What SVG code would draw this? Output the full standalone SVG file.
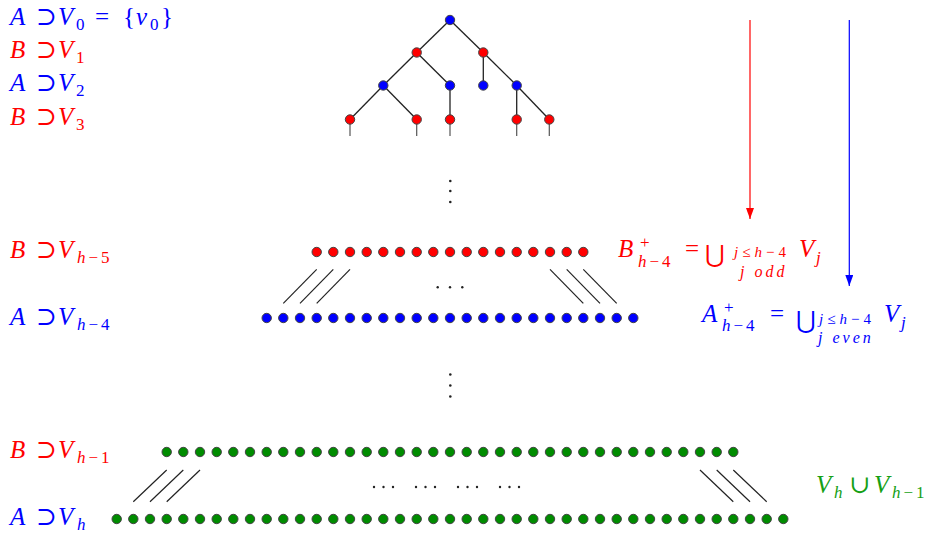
<svg xmlns="http://www.w3.org/2000/svg" width="930" height="533" viewBox="0 0 930 533">
<style>
text { font-family: "Liberation Serif", "DejaVu Serif", serif; font-style: italic; font-size: 25px; }
.r { font-style: normal; }
.s { font-size: 17px; }
.ss { font-size: 15px; }
.sj { font-size: 16px; letter-spacing: 3px; }
.big { font-family: "DejaVu Serif", serif; font-style: normal; font-size: 24px; }
.red { fill: #ff0000; }
.blue { fill: #0000ff; }
.green { fill: #15a015; }
.dr { fill: #ff0000; stroke: #444; stroke-width: 1; }
.db { fill: #0000ff; stroke: #444; stroke-width: 1; }
.dg { fill: #008c00; stroke: #444; stroke-width: 1; }
.edge { stroke: #222; stroke-width: 1.3; fill: none; }
.stub { stroke: #555; stroke-width: 1.2; }
.sl { stroke: #222; stroke-width: 1.2; }
.pt { fill: #222; }
</style>
<defs>
<marker id="ahr" markerWidth="12" markerHeight="8" refX="11" refY="4" orient="auto" markerUnits="userSpaceOnUse" viewBox="0 0 12 8">
<path d="M0,0 L11,4 L0,8 Z" fill="#ff0000"/>
</marker>
<marker id="ahb" markerWidth="12" markerHeight="8" refX="11" refY="4" orient="auto" markerUnits="userSpaceOnUse" viewBox="0 0 12 8">
<path d="M0,0 L11,4 L0,8 Z" fill="#0000ff"/>
</marker>
<circle id="cr" r="4.7" class="dr"/>
<circle id="cb" r="4.7" class="db"/>
<circle id="cg" r="4.7" class="dg"/>
</defs>

<g id="labels-left">
<text class="blue"><tspan x="10" y="25">A</tspan><tspan class="r" x="36" y="25">⊃</tspan><tspan x="58" y="25">V</tspan><tspan class="r s" x="76" y="30">0</tspan><tspan class="r" x="95" y="25">=</tspan><tspan class="r" x="123" y="25">{</tspan><tspan x="136" y="25">v</tspan><tspan class="r s" x="150" y="30">0</tspan><tspan class="r" x="161" y="25">}</tspan></text>
<text class="red"><tspan x="10" y="58">B</tspan><tspan class="r" x="36" y="58">⊃</tspan><tspan x="58" y="58">V</tspan><tspan class="r s" x="76" y="63">1</tspan></text>
<text class="blue"><tspan x="10" y="91">A</tspan><tspan class="r" x="36" y="91">⊃</tspan><tspan x="58" y="91">V</tspan><tspan class="r s" x="76" y="96">2</tspan></text>
<text class="red"><tspan x="10" y="125">B</tspan><tspan class="r" x="36" y="125">⊃</tspan><tspan x="58" y="125">V</tspan><tspan class="r s" x="76" y="130">3</tspan></text>
<text class="red"><tspan x="10" y="258">B</tspan><tspan class="r" x="36" y="258">⊃</tspan><tspan x="58" y="258">V</tspan><tspan class="s" x="77" y="263">h</tspan><tspan class="r s" dx="3">−</tspan><tspan class="r s" dx="3">5</tspan></text>
<text class="blue"><tspan x="10" y="325">A</tspan><tspan class="r" x="36" y="325">⊃</tspan><tspan x="58" y="325">V</tspan><tspan class="s" x="77" y="330">h</tspan><tspan class="r s" dx="3">−</tspan><tspan class="r s" dx="3">4</tspan></text>
<text class="red"><tspan x="10" y="458">B</tspan><tspan class="r" x="36" y="458">⊃</tspan><tspan x="58" y="458">V</tspan><tspan class="s" x="77" y="463">h</tspan><tspan class="r s" dx="3">−</tspan><tspan class="r s" dx="3">1</tspan></text>
<text class="blue"><tspan x="10" y="525">A</tspan><tspan class="r" x="36" y="525">⊃</tspan><tspan x="58" y="525">V</tspan><tspan class="s" x="77" y="530">h</tspan></text>
</g>

<g id="connectors">
<line class="edge" x1="450" y1="20" x2="416.7" y2="52.5"/>
<line class="edge" x1="450" y1="20" x2="483.3" y2="52.5"/>
<line class="edge" x1="416.7" y1="52.5" x2="383.3" y2="85.5"/>
<line class="edge" x1="416.7" y1="52.5" x2="450" y2="85.5"/>
<line class="edge" x1="483.3" y1="52.5" x2="483.3" y2="85.5"/>
<line class="edge" x1="483.3" y1="52.5" x2="516.7" y2="85.5"/>
<line class="edge" x1="383.3" y1="85.5" x2="350" y2="119.5"/>
<line class="edge" x1="383.3" y1="85.5" x2="416.7" y2="119.5"/>
<line class="edge" x1="450" y1="85.5" x2="450" y2="119.5"/>
<line class="edge" x1="516.7" y1="85.5" x2="516.7" y2="119.5"/>
<line class="edge" x1="516.7" y1="85.5" x2="549.3" y2="119.5"/>
<line class="stub" x1="350" y1="119.5" x2="350" y2="136"/>
<line class="stub" x1="416.7" y1="119.5" x2="416.7" y2="136"/>
<line class="stub" x1="450" y1="119.5" x2="450" y2="136"/>
<line class="stub" x1="516.7" y1="119.5" x2="516.7" y2="136"/>
<line class="stub" x1="549.3" y1="119.5" x2="549.3" y2="136"/>
<line class="sl" x1="283.3" y1="303.3" x2="316.7" y2="269.3"/>
<line class="sl" x1="300" y1="303.3" x2="333.3" y2="269.3"/>
<line class="sl" x1="316.7" y1="303.3" x2="350" y2="269.3"/>
<line class="sl" x1="550" y1="269.3" x2="583.3" y2="303.3"/>
<line class="sl" x1="566.7" y1="269.3" x2="600" y2="303.3"/>
<line class="sl" x1="583.3" y1="269.3" x2="616.7" y2="303.3"/>
<line class="sl" x1="133.3" y1="501.7" x2="166.7" y2="470"/>
<line class="sl" x1="150" y1="501.7" x2="183.3" y2="470"/>
<line class="sl" x1="166.7" y1="501.7" x2="200" y2="470"/>
<line class="sl" x1="700" y1="470" x2="733.3" y2="501.7"/>
<line class="sl" x1="716.7" y1="470" x2="750" y2="501.7"/>
<line class="sl" x1="733.3" y1="470" x2="766.7" y2="501.7"/>
<line x1="750" y1="20" x2="750" y2="219" stroke="#ff0000" stroke-width="1.2" marker-end="url(#ahr)"/>
<line x1="849.3" y1="20" x2="849.3" y2="286" stroke="#0000ff" stroke-width="1.2" marker-end="url(#ahb)"/>
</g>

<g id="tree">
<use href="#cb" x="450" y="20"/>
<use href="#cr" x="416.7" y="52.5"/>
<use href="#cr" x="483.3" y="52.5"/>
<use href="#cb" x="383.3" y="85.5"/>
<use href="#cb" x="450" y="85.5"/>
<use href="#cb" x="483.3" y="85.5"/>
<use href="#cb" x="516.7" y="85.5"/>
<use href="#cr" x="350" y="119.5"/>
<use href="#cr" x="416.7" y="119.5"/>
<use href="#cr" x="450" y="119.5"/>
<use href="#cr" x="516.7" y="119.5"/>
<use href="#cr" x="549.3" y="119.5"/>
</g>

<g id="vdots">
<circle class="pt" cx="450.3" cy="181" r="1.3"/>
<circle class="pt" cx="450.3" cy="191" r="1.3"/>
<circle class="pt" cx="450.3" cy="202" r="1.3"/>
<circle class="pt" cx="450.3" cy="374.5" r="1.3"/>
<circle class="pt" cx="450.3" cy="385.5" r="1.3"/>
<circle class="pt" cx="450.3" cy="396.5" r="1.3"/>
<circle class="pt" cx="437.7" cy="287.3" r="1.2"/>
<circle class="pt" cx="450" cy="287.3" r="1.2"/>
<circle class="pt" cx="462.3" cy="287.3" r="1.2"/>
<circle class="pt" cx="374" cy="487" r="1.2"/>
<circle class="pt" cx="383.5" cy="487" r="1.2"/>
<circle class="pt" cx="393" cy="487" r="1.2"/>
<circle class="pt" cx="416" cy="487" r="1.2"/>
<circle class="pt" cx="425.5" cy="487" r="1.2"/>
<circle class="pt" cx="435" cy="487" r="1.2"/>
<circle class="pt" cx="458" cy="487" r="1.2"/>
<circle class="pt" cx="467.5" cy="487" r="1.2"/>
<circle class="pt" cx="477" cy="487" r="1.2"/>
<circle class="pt" cx="500" cy="487" r="1.2"/>
<circle class="pt" cx="509.5" cy="487" r="1.2"/>
<circle class="pt" cx="519" cy="487" r="1.2"/>
</g>

<g id="row-red">
<use href="#cr" x="316.7" y="252"/><use href="#cr" x="333.3" y="252"/><use href="#cr" x="350" y="252"/><use href="#cr" x="366.7" y="252"/><use href="#cr" x="383.3" y="252"/><use href="#cr" x="400" y="252"/><use href="#cr" x="416.7" y="252"/><use href="#cr" x="433.3" y="252"/><use href="#cr" x="450" y="252"/><use href="#cr" x="466.7" y="252"/><use href="#cr" x="483.3" y="252"/><use href="#cr" x="500" y="252"/><use href="#cr" x="516.7" y="252"/><use href="#cr" x="533.3" y="252"/><use href="#cr" x="550" y="252"/><use href="#cr" x="566.7" y="252"/><use href="#cr" x="583.3" y="252"/>
</g>

<g id="row-blue">
<use href="#cb" x="266.7" y="318"/><use href="#cb" x="283.3" y="318"/><use href="#cb" x="300" y="318"/><use href="#cb" x="316.7" y="318"/><use href="#cb" x="333.3" y="318"/><use href="#cb" x="350" y="318"/><use href="#cb" x="366.7" y="318"/><use href="#cb" x="383.3" y="318"/><use href="#cb" x="400" y="318"/><use href="#cb" x="416.7" y="318"/><use href="#cb" x="433.3" y="318"/><use href="#cb" x="450" y="318"/><use href="#cb" x="466.7" y="318"/><use href="#cb" x="483.3" y="318"/><use href="#cb" x="500" y="318"/><use href="#cb" x="516.7" y="318"/><use href="#cb" x="533.3" y="318"/><use href="#cb" x="550" y="318"/><use href="#cb" x="566.7" y="318"/><use href="#cb" x="583.3" y="318"/><use href="#cb" x="600" y="318"/><use href="#cb" x="616.7" y="318"/><use href="#cb" x="633.3" y="318"/>
</g>

<g id="row-green-upper">
<use href="#cg" x="166.7" y="452"/><use href="#cg" x="183.3" y="452"/><use href="#cg" x="200" y="452"/><use href="#cg" x="216.7" y="452"/><use href="#cg" x="233.3" y="452"/><use href="#cg" x="250" y="452"/><use href="#cg" x="266.7" y="452"/><use href="#cg" x="283.3" y="452"/><use href="#cg" x="300" y="452"/><use href="#cg" x="316.7" y="452"/><use href="#cg" x="333.3" y="452"/><use href="#cg" x="350" y="452"/><use href="#cg" x="366.7" y="452"/><use href="#cg" x="383.3" y="452"/><use href="#cg" x="400" y="452"/><use href="#cg" x="416.7" y="452"/><use href="#cg" x="433.3" y="452"/><use href="#cg" x="450" y="452"/><use href="#cg" x="466.7" y="452"/><use href="#cg" x="483.3" y="452"/><use href="#cg" x="500" y="452"/><use href="#cg" x="516.7" y="452"/><use href="#cg" x="533.3" y="452"/><use href="#cg" x="550" y="452"/><use href="#cg" x="566.7" y="452"/><use href="#cg" x="583.3" y="452"/><use href="#cg" x="600" y="452"/><use href="#cg" x="616.7" y="452"/><use href="#cg" x="633.3" y="452"/><use href="#cg" x="650" y="452"/><use href="#cg" x="666.7" y="452"/><use href="#cg" x="683.3" y="452"/><use href="#cg" x="700" y="452"/><use href="#cg" x="716.7" y="452"/><use href="#cg" x="733.3" y="452"/>
</g>

<g id="row-green-lower">
<use href="#cg" x="116.7" y="519"/><use href="#cg" x="133.3" y="519"/><use href="#cg" x="150" y="519"/><use href="#cg" x="166.7" y="519"/><use href="#cg" x="183.3" y="519"/><use href="#cg" x="200" y="519"/><use href="#cg" x="216.7" y="519"/><use href="#cg" x="233.3" y="519"/><use href="#cg" x="250" y="519"/><use href="#cg" x="266.7" y="519"/><use href="#cg" x="283.3" y="519"/><use href="#cg" x="300" y="519"/><use href="#cg" x="316.7" y="519"/><use href="#cg" x="333.3" y="519"/><use href="#cg" x="350" y="519"/><use href="#cg" x="366.7" y="519"/><use href="#cg" x="383.3" y="519"/><use href="#cg" x="400" y="519"/><use href="#cg" x="416.7" y="519"/><use href="#cg" x="433.3" y="519"/><use href="#cg" x="450" y="519"/><use href="#cg" x="466.7" y="519"/><use href="#cg" x="483.3" y="519"/><use href="#cg" x="500" y="519"/><use href="#cg" x="516.7" y="519"/><use href="#cg" x="533.3" y="519"/><use href="#cg" x="550" y="519"/><use href="#cg" x="566.7" y="519"/><use href="#cg" x="583.3" y="519"/><use href="#cg" x="600" y="519"/><use href="#cg" x="616.7" y="519"/><use href="#cg" x="633.3" y="519"/><use href="#cg" x="650" y="519"/><use href="#cg" x="666.7" y="519"/><use href="#cg" x="683.3" y="519"/><use href="#cg" x="700" y="519"/><use href="#cg" x="716.7" y="519"/><use href="#cg" x="733.3" y="519"/><use href="#cg" x="750" y="519"/><use href="#cg" x="766.7" y="519"/><use href="#cg" x="783.3" y="519"/>
</g>

<g id="label-Bplus">
<text class="red"><tspan x="618" y="257">B</tspan><tspan class="r s" x="640" y="248">+</tspan><tspan class="s" x="638" y="267">h</tspan><tspan class="r s" dx="3">−</tspan><tspan class="r s" dx="3">4</tspan><tspan class="r" x="685" y="257">=</tspan><tspan class="big" x="705" y="262">⋃</tspan><tspan class="ss" x="734" y="257">j</tspan><tspan class="r ss" dx="4">≤</tspan><tspan class="ss" dx="4">h</tspan><tspan class="r ss" dx="4">−</tspan><tspan class="r ss" dx="4">4</tspan><tspan class="sj" x="740" y="277">j odd</tspan><tspan x="799" y="257">V</tspan><tspan class="s" x="816" y="263">j</tspan></text>
</g>

<g id="label-Aplus">
<text class="blue"><tspan x="702" y="322">A</tspan><tspan class="r s" x="724" y="313">+</tspan><tspan class="s" x="722" y="331">h</tspan><tspan class="r s" dx="3">−</tspan><tspan class="r s" dx="3">4</tspan><tspan class="r" x="770" y="322">=</tspan><tspan class="big" x="796" y="328">⋃</tspan><tspan class="ss" x="819" y="324">j</tspan><tspan class="r ss" dx="4">≤</tspan><tspan class="ss" dx="4">h</tspan><tspan class="r ss" dx="4">−</tspan><tspan class="r ss" dx="4">4</tspan><tspan class="sj" x="818" y="343">j even</tspan><tspan x="884" y="322">V</tspan><tspan class="s" x="901" y="328">j</tspan></text>
</g>

<g id="label-green">
<text class="green"><tspan x="816" y="493">V</tspan><tspan class="s" x="834" y="498">h</tspan><tspan class="r" x="849" y="493">∪</tspan><tspan x="874" y="493">V</tspan><tspan class="s" x="892" y="498">h</tspan><tspan class="r s" dx="3">−</tspan><tspan class="r s" dx="3">1</tspan></text>
</g>
</svg>
